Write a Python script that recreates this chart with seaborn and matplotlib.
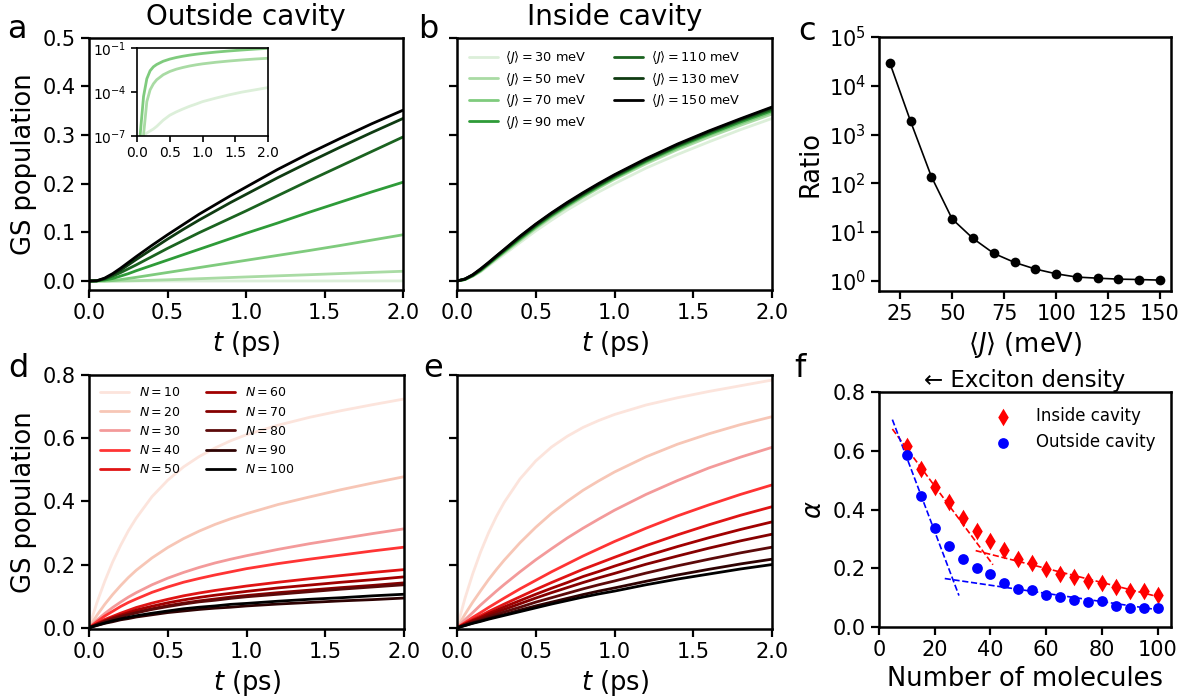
import matplotlib
matplotlib.use("Agg")
import matplotlib.pyplot as plt
from matplotlib.ticker import NullLocator, LogLocator
import seaborn as sns

# ---------------- data ----------------
# common time grid (ps)
t_ps = [0.0, 0.05, 0.1, 0.15, 0.2, 0.25, 0.3, 0.4, 0.5, 0.6, 0.7, 0.8, 0.9,
        1.0, 1.2, 1.4, 1.6, 1.8, 2.0]

# coupling strengths <J> (meV)
J_values = [30, 50, 70, 90, 110, 130, 150]
J_colors = ["#dcefd9", "#a9dba4", "#7fcb7d", "#2e9b38", "#1b6320", "#0f3b12", "#000000"]

# GS population vs t, outside cavity, per <J>
gs_out_J30 = [0, 0, 1.0e-7, 1.6e-7, 2.2e-7, 3.0e-7, 4.5e-7, 1.2e-6, 2.6e-6, 4.4e-6, 6.9e-6,
              1.05e-5, 1.5e-5, 2.2e-5, 3.8e-5, 6.3e-5, 9.8e-5, 1.4e-4, 2.0e-4]
gs_out_J50 = [0, 0, 1.2e-7, 2.2e-5, 1.4e-4, 3.6e-4, 6.8e-4, 1.5e-3, 2.5e-3, 3.6e-3, 4.7e-3,
              5.9e-3, 7.1e-3, 8.3e-3, 0.0106, 0.0129, 0.0153, 0.0177, 0.020]
gs_out_J70 = [0, 1.5e-7, 5e-5, 8e-4, 2.8e-3, 5.2e-3, 7.5e-3, 0.0125, 0.0175, 0.0225, 0.0275,
              0.0325, 0.0375, 0.0425, 0.0525, 0.0625, 0.073, 0.084, 0.095]
gs_out_J90 = [0, 0.0002, 0.002, 0.005, 0.010, 0.015, 0.021, 0.032, 0.043, 0.054, 0.065,
              0.076, 0.087, 0.098, 0.119, 0.141, 0.162, 0.183, 0.203]
gs_out_J110 = [0, 0.0003, 0.004, 0.010, 0.017, 0.025, 0.033, 0.050, 0.067, 0.083, 0.099,
               0.114, 0.129, 0.144, 0.175, 0.206, 0.236, 0.266, 0.296]
gs_out_J130 = [0, 0.0004, 0.005, 0.013, 0.022, 0.033, 0.044, 0.065, 0.086, 0.106, 0.125,
               0.143, 0.161, 0.178, 0.212, 0.244, 0.275, 0.305, 0.334]
gs_out_J150 = [0, 0.0005, 0.006, 0.015, 0.026, 0.038, 0.050, 0.073, 0.095, 0.116, 0.137,
               0.156, 0.175, 0.193, 0.229, 0.262, 0.293, 0.323, 0.351]
gs_out_J = [gs_out_J30, gs_out_J50, gs_out_J70, gs_out_J90, gs_out_J110, gs_out_J130, gs_out_J150]

# GS population vs t, inside cavity, per <J>
gs_in_J30 = [0, 0.003, 0.010, 0.019, 0.031, 0.043, 0.055, 0.079, 0.103, 0.125, 0.146,
             0.165, 0.183, 0.200, 0.232, 0.260, 0.286, 0.311, 0.334]
gs_in_J50 = [0, 0.003, 0.010, 0.020, 0.033, 0.046, 0.058, 0.083, 0.108, 0.131, 0.152,
             0.172, 0.191, 0.209, 0.241, 0.270, 0.296, 0.320, 0.343]
gs_in_J70 = [0, 0.003, 0.011, 0.021, 0.034, 0.047, 0.060, 0.085, 0.110, 0.133, 0.154,
             0.174, 0.193, 0.211, 0.244, 0.273, 0.300, 0.324, 0.347]
gs_in_J90 = [0, 0.003, 0.011, 0.022, 0.035, 0.048, 0.061, 0.087, 0.112, 0.135, 0.156,
             0.176, 0.195, 0.213, 0.246, 0.276, 0.302, 0.327, 0.350]
gs_in_J110 = [0, 0.004, 0.012, 0.023, 0.036, 0.050, 0.063, 0.089, 0.114, 0.137, 0.158,
              0.178, 0.197, 0.215, 0.248, 0.278, 0.305, 0.330, 0.353]
gs_in_J130 = [0, 0.004, 0.012, 0.024, 0.037, 0.051, 0.064, 0.091, 0.116, 0.139, 0.160,
              0.180, 0.199, 0.217, 0.250, 0.280, 0.307, 0.332, 0.356]
gs_in_J150 = [0, 0.004, 0.013, 0.025, 0.038, 0.0515, 0.065, 0.092, 0.117, 0.140, 0.1615,
              0.1815, 0.2005, 0.2185, 0.2515, 0.2815, 0.3085, 0.3335, 0.3575]
gs_in_J = [gs_in_J30, gs_in_J50, gs_in_J70, gs_in_J90, gs_in_J110, gs_in_J130, gs_in_J150]

# ratio (inside / outside) vs <J>
ratio_J = [20, 30, 40, 50, 60, 70, 80, 90, 100, 110, 120, 130, 140, 150]
ratio_val = [29500, 1860, 137, 18.5, 7.4, 3.65, 2.38, 1.74, 1.39, 1.19, 1.13, 1.08, 1.06, 1.03]

# number of molecules
N_values = [10, 20, 30, 40, 50, 60, 70, 80, 90, 100]
N_colors = ["#fce4dc", "#f7c6b6", "#f39a9a", "#ff3434", "#e01414", "#a10000",
            "#850000", "#5c0a0a", "#2e0202", "#000000"]

gs_out_N10 = [0, 0.079, 0.147, 0.208, 0.260, 0.307, 0.347, 0.415, 0.467, 0.509, 0.542,
              0.569, 0.592, 0.611, 0.641, 0.666, 0.687, 0.706, 0.724]
gs_out_N20 = [0, 0.039, 0.074, 0.105, 0.133, 0.159, 0.182, 0.221, 0.254, 0.282, 0.306,
              0.327, 0.345, 0.361, 0.390, 0.414, 0.437, 0.458, 0.478]
gs_out_N30 = [0, 0.024, 0.045, 0.064, 0.081, 0.097, 0.111, 0.136, 0.157, 0.175, 0.191,
              0.205, 0.217, 0.228, 0.248, 0.266, 0.282, 0.298, 0.313]
gs_out_N40 = [0, 0.019, 0.037, 0.052, 0.067, 0.080, 0.091, 0.112, 0.129, 0.144, 0.156,
              0.167, 0.177, 0.187, 0.203, 0.217, 0.230, 0.243, 0.255]
gs_out_N50 = [0, 0.013, 0.026, 0.036, 0.046, 0.055, 0.064, 0.078, 0.090, 0.101, 0.110,
              0.118, 0.125, 0.132, 0.144, 0.155, 0.165, 0.175, 0.184]
gs_out_N60 = [0, 0.012, 0.022, 0.032, 0.040, 0.048, 0.056, 0.068, 0.079, 0.088, 0.096,
              0.103, 0.109, 0.115, 0.126, 0.135, 0.144, 0.152, 0.161]
gs_out_N70 = [0, 0.010, 0.020, 0.028, 0.036, 0.043, 0.049, 0.060, 0.070, 0.078, 0.085,
              0.091, 0.097, 0.102, 0.111, 0.119, 0.127, 0.134, 0.142]
gs_out_N80 = [0, 0.010, 0.019, 0.027, 0.034, 0.041, 0.047, 0.058, 0.067, 0.075, 0.082,
              0.087, 0.093, 0.098, 0.106, 0.114, 0.122, 0.129, 0.136]
gs_out_N90 = [0, 0.007, 0.014, 0.019, 0.025, 0.029, 0.034, 0.041, 0.048, 0.053, 0.058,
              0.062, 0.065, 0.069, 0.075, 0.080, 0.085, 0.089, 0.094]
gs_out_N100 = [0, 0.008, 0.015, 0.022, 0.028, 0.033, 0.038, 0.046, 0.053, 0.060, 0.065,
               0.069, 0.074, 0.077, 0.084, 0.090, 0.095, 0.101, 0.106]
gs_out_N = [gs_out_N10, gs_out_N20, gs_out_N30, gs_out_N40, gs_out_N50,
            gs_out_N60, gs_out_N70, gs_out_N80, gs_out_N90, gs_out_N100]

gs_in_N10 = [0, 0.092, 0.171, 0.240, 0.300, 0.352, 0.397, 0.471, 0.528, 0.572, 0.606,
             0.634, 0.656, 0.675, 0.705, 0.728, 0.748, 0.766, 0.784]
gs_in_N20 = [0, 0.042, 0.081, 0.117, 0.152, 0.184, 0.214, 0.269, 0.318, 0.362, 0.400,
             0.435, 0.465, 0.493, 0.541, 0.581, 0.614, 0.643, 0.668]
gs_in_N30 = [0, 0.025, 0.048, 0.072, 0.094, 0.116, 0.137, 0.177, 0.215, 0.250, 0.284,
             0.315, 0.344, 0.372, 0.422, 0.466, 0.506, 0.540, 0.571]
gs_in_N40 = [0, 0.016, 0.033, 0.048, 0.064, 0.079, 0.094, 0.123, 0.150, 0.177, 0.202,
             0.227, 0.250, 0.273, 0.315, 0.354, 0.389, 0.422, 0.452]
gs_in_N50 = [0, 0.013, 0.026, 0.038, 0.051, 0.063, 0.075, 0.098, 0.121, 0.143, 0.164,
             0.185, 0.204, 0.223, 0.260, 0.294, 0.326, 0.356, 0.383]
gs_in_N60 = [0, 0.011, 0.023, 0.033, 0.045, 0.055, 0.066, 0.086, 0.106, 0.125, 0.143,
             0.162, 0.178, 0.195, 0.227, 0.257, 0.285, 0.311, 0.335]
gs_in_N70 = [0, 0.010, 0.020, 0.029, 0.039, 0.049, 0.058, 0.076, 0.094, 0.111, 0.127,
             0.143, 0.158, 0.172, 0.201, 0.227, 0.252, 0.275, 0.296]
gs_in_N80 = [0, 0.009, 0.017, 0.025, 0.034, 0.042, 0.050, 0.065, 0.081, 0.095, 0.109,
             0.123, 0.136, 0.148, 0.173, 0.196, 0.217, 0.237, 0.255]
gs_in_N90 = [0, 0.007, 0.015, 0.022, 0.029, 0.036, 0.042, 0.056, 0.069, 0.081, 0.093,
             0.105, 0.116, 0.126, 0.147, 0.167, 0.185, 0.202, 0.217]
gs_in_N100 = [0, 0.007, 0.014, 0.020, 0.027, 0.033, 0.039, 0.051, 0.063, 0.075, 0.086,
              0.097, 0.107, 0.116, 0.136, 0.154, 0.170, 0.186, 0.200]
gs_in_N = [gs_in_N10, gs_in_N20, gs_in_N30, gs_in_N40, gs_in_N50,
           gs_in_N60, gs_in_N70, gs_in_N80, gs_in_N90, gs_in_N100]

# exponent alpha vs number of molecules
mol_N = [10, 15, 20, 25, 30, 35, 40, 45, 50, 55, 60, 65, 70, 75, 80, 85, 90, 95, 100]
alpha_in = [0.617, 0.538, 0.476, 0.424, 0.371, 0.328, 0.293, 0.262, 0.233, 0.217, 0.197,
            0.180, 0.169, 0.158, 0.149, 0.137, 0.124, 0.121, 0.110]
alpha_out = [0.586, 0.445, 0.337, 0.277, 0.233, 0.201, 0.180, 0.150, 0.129, 0.125, 0.109,
             0.102, 0.093, 0.084, 0.090, 0.073, 0.065, 0.064, 0.065]

# linear fits (two regimes) for each series: endpoints
fit_in_low_x, fit_in_low_y = [4.8, 40.9], [0.674, 0.212]
fit_in_high_x, fit_in_high_y = [34.7, 99.8], [0.260, 0.104]
fit_out_low_x, fit_out_low_y = [4.8, 28.7], [0.706, 0.107]
fit_out_high_x, fit_out_high_y = [23.6, 99.8], [0.165, 0.059]

# ---------------- style ----------------
sns.set_theme(style="ticks")
plt.rcParams.update({
    "font.family": ["DejaVu Sans"],
    "mathtext.fontset": "dejavusans",
    "axes.linewidth": 1.8,
    "axes.edgecolor": "black",
    "axes.labelcolor": "black",
    "text.color": "black",
    "xtick.color": "black",
    "ytick.color": "black",
    "xtick.major.width": 1.6,
    "ytick.major.width": 1.6,
    "xtick.major.size": 6,
    "ytick.major.size": 6,
    "xtick.labelsize": 15,
    "ytick.labelsize": 15,
    "axes.labelsize": 18.5,
})

W, H = 1190, 700
fig = plt.figure(figsize=(W / 100, H / 100), dpi=100)


def px_axes(x0, x1, y0, y1):
    return fig.add_axes([x0 / W, 1 - y1 / H, (x1 - x0) / W, (y1 - y0) / H])


ax_a = px_axes(89, 403, 37.7, 290)
ax_b = px_axes(457, 772, 37.7, 290)
ax_c = px_axes(879, 1171, 37, 291)
ax_d = px_axes(89, 404, 375, 629)
ax_e = px_axes(457, 772, 375, 629)
ax_f = px_axes(879, 1171, 392, 627)

LW = 2.0
TITLE_FS = 20

# ---- a: outside cavity, varying <J>
for vals, c in zip(gs_out_J, J_colors):
    sns.lineplot(x=t_ps, y=vals, ax=ax_a, color=c, lw=LW)
ax_a.set_xlim(0, 2)
ax_a.set_ylim(-0.0185, 0.5)
ax_a.set_xticks([0, 0.5, 1.0, 1.5, 2.0])
ax_a.set_yticks([0, 0.1, 0.2, 0.3, 0.4, 0.5])
ax_a.set_xlabel("$t$ (ps)")
ax_a.set_ylabel("GS population")
ax_a.set_title("Outside cavity", fontsize=TITLE_FS, pad=9)

# inset with log scale for the weakest couplings
ins = fig.add_axes([137 / W, 1 - 136 / H, 131 / W, 88 / H])
for vals, c in zip(gs_out_J[:3], J_colors[:3]):
    sns.lineplot(x=t_ps, y=vals, ax=ins, color=c, lw=LW)
ins.set_yscale("log")
ins.set_xlim(0, 2)
ins.set_ylim(1e-7, 1e-1)
ins.set_yticks([1e-7, 1e-4, 1e-1])
ins.yaxis.set_minor_locator(NullLocator())
ins.set_xticks([0, 0.5, 1.0, 1.5, 2.0])
ins.tick_params(labelsize=10, length=4, width=1.2)
for s in ins.spines.values():
    s.set_linewidth(1.2)

# ---- b: inside cavity, varying <J>
for vals, c, J in zip(gs_in_J, J_colors, J_values):
    sns.lineplot(x=t_ps, y=vals, ax=ax_b, color=c, lw=LW,
                 label=r"$\langle J\rangle = %d$ meV" % J)
ax_b.set_xlim(0, 2)
ax_b.set_ylim(-0.0185, 0.5)
ax_b.set_xticks([0, 0.5, 1.0, 1.5, 2.0])
ax_b.set_yticks([0, 0.1, 0.2, 0.3, 0.4, 0.5])
ax_b.set_yticklabels([])
ax_b.set_xlabel("$t$ (ps)")
ax_b.set_title("Inside cavity", fontsize=TITLE_FS, pad=9)
ax_b.legend(ncol=2, loc="upper left", frameon=False, fontsize=9.3,
            handlelength=2.25, handletextpad=0.6, columnspacing=2.1,
            labelspacing=0.35, borderaxespad=0.5)

# ---- c: ratio
sns.lineplot(x=ratio_J, y=ratio_val, ax=ax_c, color="black", lw=1.2,
             marker="o", markersize=7, markeredgewidth=0)
ax_c.set_yscale("log")
ax_c.set_ylim(10 ** -0.21, 1e5)
ax_c.set_xlim(14.8, 155.3)
ax_c.set_xticks([25, 50, 75, 100, 125, 150])
ax_c.yaxis.set_major_locator(LogLocator(base=10, numticks=10))
ax_c.yaxis.set_minor_locator(NullLocator())
ax_c.set_xlabel(r"$\langle J\rangle$ (meV)")
ax_c.set_ylabel("Ratio")

# ---- d: outside cavity, varying N
for vals, c, N in zip(gs_out_N, N_colors, N_values):
    sns.lineplot(x=t_ps, y=vals, ax=ax_d, color=c, lw=LW, label=r"$N = %d$" % N)
ax_d.set_xlim(0, 2)
ax_d.set_ylim(-0.004, 0.8)
ax_d.set_xticks([0, 0.5, 1.0, 1.5, 2.0])
ax_d.set_yticks([0, 0.2, 0.4, 0.6, 0.8])
ax_d.set_xlabel("$t$ (ps)")
ax_d.set_ylabel("GS population")
ax_d.legend(ncol=2, loc="upper left", frameon=False, fontsize=9,
            handlelength=2.3, handletextpad=0.8, columnspacing=2.0,
            labelspacing=0.5, borderaxespad=0.5)

# ---- e: inside cavity, varying N
for vals, c in zip(gs_in_N, N_colors):
    sns.lineplot(x=t_ps, y=vals, ax=ax_e, color=c, lw=LW)
ax_e.set_xlim(0, 2)
ax_e.set_ylim(-0.004, 0.8)
ax_e.set_xticks([0, 0.5, 1.0, 1.5, 2.0])
ax_e.set_yticks([0, 0.2, 0.4, 0.6, 0.8])
ax_e.set_yticklabels([])
ax_e.set_xlabel("$t$ (ps)")

# ---- f: alpha vs number of molecules
sns.scatterplot(x=mol_N, y=alpha_in, ax=ax_f, color="red", marker="d", s=80,
                linewidth=0, label="Inside cavity", zorder=3)
sns.scatterplot(x=mol_N, y=alpha_out, ax=ax_f, color="blue", marker="o", s=60,
                linewidth=0, label="Outside cavity", zorder=3)
for fx, fy, c in [(fit_in_low_x, fit_in_low_y, "red"),
                  (fit_in_high_x, fit_in_high_y, "red"),
                  (fit_out_low_x, fit_out_low_y, "blue"),
                  (fit_out_high_x, fit_out_high_y, "blue")]:
    sns.lineplot(x=fx, y=fy, ax=ax_f, color=c, lw=1.2, linestyle="--")
ax_f.set_xlim(0, 104.8)
ax_f.set_ylim(0, 0.8)
ax_f.set_xticks([0, 20, 40, 60, 80, 100])
ax_f.set_yticks([0, 0.2, 0.4, 0.6, 0.8])
ax_f.set_xlabel("Number of molecules")
ax_f.set_ylabel(r"$\alpha$")
ax_f.set_title("\u2190 Exciton density", fontsize=16.5, pad=3)
ax_f.legend(loc="upper right", frameon=False, fontsize=12, handletextpad=1.0)

# panel letters
for letter, x, y in [("a", 17, 38), ("b", 428, 38), ("c", 807, 40),
                     ("d", 18, 377), ("e", 433, 377), ("f", 800, 377)]:
    fig.text(x / W, 1 - y / H, letter, fontsize=23, ha="center", va="baseline")

fig.savefig("out.png", dpi=100)
